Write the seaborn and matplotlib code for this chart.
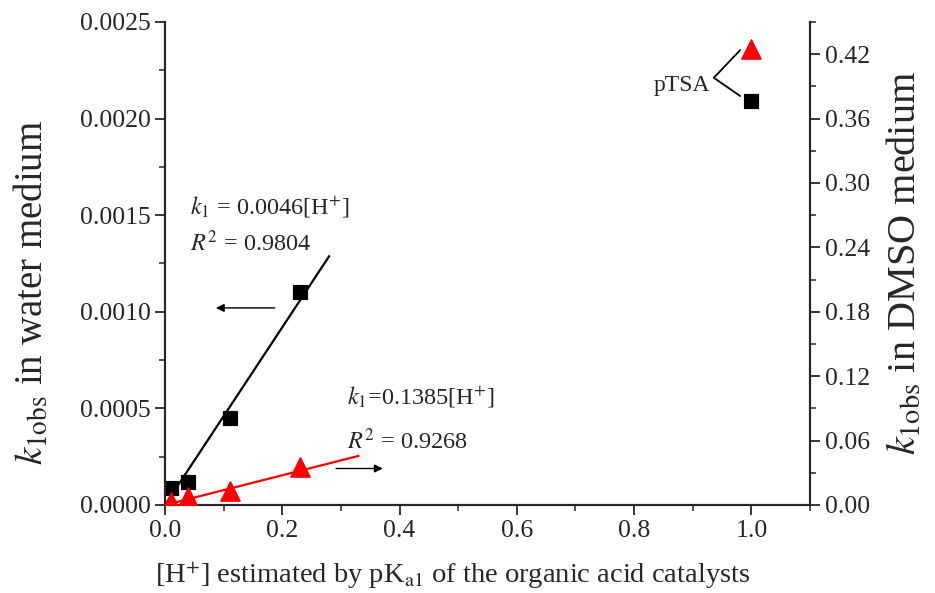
import numpy as np
import pandas as pd
import seaborn as sns
from matplotlib import pyplot as plt
from matplotlib.ticker import MultipleLocator, FormatStrFormatter

# data
h_conc = [0.01, 0.04, 0.11, 0.23, 1.0]
k_water = [0.00009, 0.00012, 0.00045, 0.0011, 0.00209]
k_dmso = [0.003, 0.007, 0.013, 0.035, 0.425]

slope_water = 0.0046
slope_dmso = 0.1385
fit_x_water = [0.0, 0.28]
fit_x_dmso = [0.0, 0.33]

sns.set_style("ticks")
plt.rcParams['font.family'] = ['Liberation Serif', 'DejaVu Serif']
plt.rcParams['mathtext.fontset'] = 'stix'

fig = plt.figure(figsize=(9.35, 5.93), dpi=100)
ax = fig.add_axes([0.1765, 0.1484, 0.6898, 0.8146])
ax2 = ax.twinx()

df = pd.DataFrame({"h": h_conc, "water": k_water, "dmso": k_dmso})
fit_w = pd.DataFrame({"h": fit_x_water, "k": [slope_water * v for v in fit_x_water]})
fit_d = pd.DataFrame({"h": fit_x_dmso, "k": [slope_dmso * v for v in fit_x_dmso]})

sns.lineplot(data=fit_w, x="h", y="k", color="black", lw=1.6, ax=ax)
sns.scatterplot(data=df, x="h", y="water", marker="s", s=110, color="black",
                edgecolor="black", ax=ax, zorder=3)
sns.lineplot(data=fit_d, x="h", y="k", color="red", lw=1.6, ax=ax2)
sns.scatterplot(data=df, x="h", y="dmso", marker="^", s=190, color="red",
                edgecolor="red", ax=ax2, zorder=3)

ax.set_xlim(0, 1.1)
ax.set_ylim(0, 0.0025)
ax2.set_ylim(0, 0.45)

ax.xaxis.set_major_locator(MultipleLocator(0.2))
ax.xaxis.set_minor_locator(MultipleLocator(0.1))
ax.xaxis.set_major_formatter(FormatStrFormatter('%.1f'))
ax.yaxis.set_major_locator(MultipleLocator(0.0005))
ax.yaxis.set_minor_locator(MultipleLocator(0.00025))
ax.yaxis.set_major_formatter(FormatStrFormatter('%.4f'))
ax2.yaxis.set_major_locator(MultipleLocator(0.06))
ax2.yaxis.set_minor_locator(MultipleLocator(0.03))
ax2.yaxis.set_major_formatter(FormatStrFormatter('%.2f'))

for a in (ax, ax2):
    a.spines['top'].set_visible(False)
    for s in a.spines.values():
        s.set_linewidth(1.5)
    a.tick_params(which='major', direction='out', length=7, width=1.3, labelsize=18.5)
    a.tick_params(which='minor', direction='out', length=4, width=1.1)

ax.set_xlabel(r"[H$^{+}$] estimated by pK$_{\rm a1}$ of the organic acid catalysts",
              fontsize=20.5, ha='left')
ax.xaxis.set_label_coords(-0.016, -0.113)
ax.set_ylabel(r"$k_{\rm 1obs}$ in water medium", fontsize=28)
ax.yaxis.set_label_coords(-0.175, 0.44)
ax2.set_ylabel(r"$k_{\rm 1obs}$ in DMSO medium", fontsize=29, labelpad=12)

ax.text(0.043, 0.00154, r"$k_{1}$ = 0.0046[H$^{+}$]", fontsize=17.5, ha='left', va='center')
ax.text(0.043, 0.001356, r"$R^{2}$ = 0.9804", fontsize=17.5, ha='left', va='center')
ax2.text(0.31, 0.100, r"$k_{1}$=0.1385[H$^{+}$]", fontsize=17.5, ha='left', va='center')
ax2.text(0.31, 0.059, r"$R^{2}$ = 0.9268", fontsize=17.5, ha='left', va='center')

ax.annotate("", xy=(0.082, 0.00102), xytext=(0.192, 0.00102),
            arrowprops=dict(arrowstyle="-|>", color="black", lw=1, mutation_scale=12))
ax2.annotate("", xy=(0.376, 0.034), xytext=(0.287, 0.034),
             arrowprops=dict(arrowstyle="-|>", color="black", lw=1, mutation_scale=12))

ax2.text(0.930, 0.391, "pTSA", fontsize=17, ha='right', va='center')
ax2.plot([0.936, 0.981], [0.398, 0.4238], color="black", lw=1.3)
ax2.plot([0.936, 0.981], [0.398, 0.381], color="black", lw=1.3)

fig.savefig("out.png", dpi=100)
